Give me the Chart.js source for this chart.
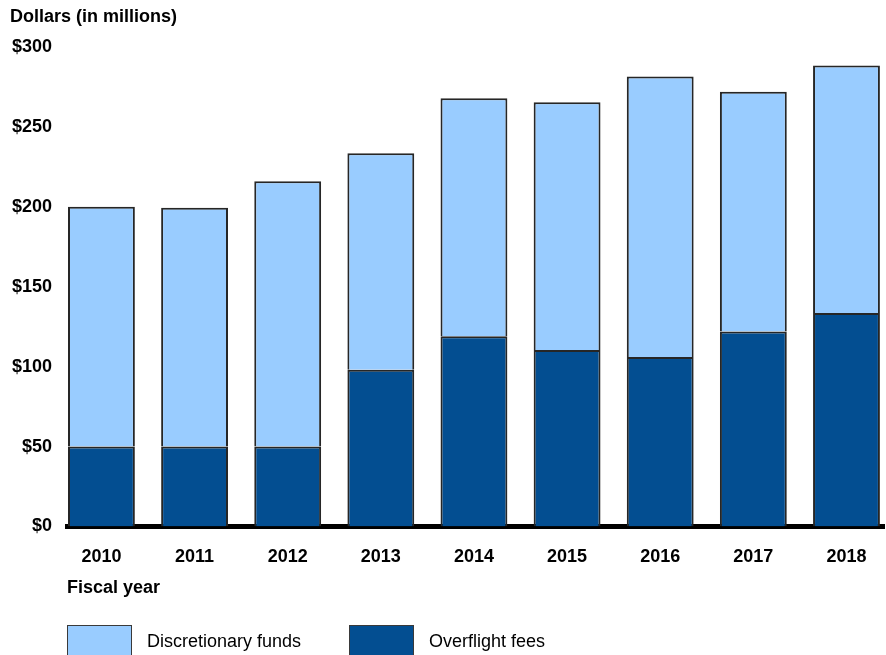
<!DOCTYPE html>
<html>
<head>
<meta charset="utf-8">
<script src="https://cdn.jsdelivr.net/npm/chart.js@4/dist/chart.umd.min.js"></script>
<style>
  html, body { margin: 0; padding: 0; background: #fff; overflow: hidden; }
  #wrap { width: 886px; height: 655px; position: relative; }
</style>
</head>
<body>
<div id="wrap"><canvas id="chart" width="886" height="655"></canvas></div>
<script>
// Fiscal years on the horizontal axis
const fiscalYears = ['2010', '2011', '2012', '2013', '2014', '2015', '2016', '2017', '2018'];
// Funding sources, dollars in millions
const overflightFees = [50, 50, 50, 98, 119, 110.5, 106, 122, 133.5];
const discretionaryFunds = [150, 149.5, 166, 135.5, 149, 155, 175.5, 150, 155];
// Dollar axis ticks
const dollarTicks = [0, 50, 100, 150, 200, 250, 300];

const FONT = "'Liberation Sans', Arial, sans-serif";
const LIGHT = '#99CCFF';
const DARK = '#034E91';
const EDGE = '#262626';

// Legend drawn below the axis title, discretionary funds first
const legendPlugin = {
  id: 'fundLegend',
  afterDraw(chart) {
    const ctx = chart.ctx;
    const items = [
      { ds: chart.data.datasets[1], boxX: 67, textX: 147 },
      { ds: chart.data.datasets[0], boxX: 349, textX: 429 }
    ];
    ctx.save();
    items.forEach(it => {
      ctx.fillStyle = it.ds.backgroundColor;
      ctx.fillRect(it.boxX + 0.5, 625.5, 64, 36);
      ctx.strokeStyle = '#3a3a3a';
      ctx.lineWidth = 1;
      ctx.strokeRect(it.boxX + 0.5, 625.5, 64, 36);
      ctx.fillStyle = '#000';
      ctx.font = '18px ' + FONT;
      ctx.textBaseline = 'middle';
      ctx.textAlign = 'left';
      ctx.fillText(it.ds.label, it.textX, 642);
    });
    ctx.restore();
  }
};

new Chart(document.getElementById('chart'), {
  type: 'bar',
  data: {
    datasets: [
      {
        label: 'Overflight fees',
        data: fiscalYears.map((_, i) => ({ x: i, y: overflightFees[i] })),
        backgroundColor: DARK,
        borderColor: EDGE,
        borderWidth: 2,
        borderSkipped: 'start'
      },
      {
        label: 'Discretionary funds',
        data: fiscalYears.map((_, i) => ({ x: i, y: discretionaryFunds[i] })),
        backgroundColor: LIGHT,
        borderColor: EDGE,
        borderWidth: 2,
        borderSkipped: 'start'
      }
    ]
  },
  options: {
    responsive: false,
    animation: false,
    categoryPercentage: 1,
    barPercentage: 0.718,
    layout: { padding: { left: 10, right: 0, top: 0, bottom: 0 } },
    plugins: {
      legend: { display: false },
      tooltip: { enabled: false },
      title: {
        display: true,
        text: 'Dollars (in millions)',
        align: 'start',
        color: '#000',
        font: { family: FONT, size: 18, weight: 'bold', lineHeight: 1.2 },
        padding: { top: 6.5, bottom: 18.9 }
      }
    },
    scales: {
      x: {
        type: 'linear',
        stacked: true,
        offset: false,
        min: -0.3697,
        max: 8.407,
        z: 1,
        grid: { display: false, drawTicks: false, offset: false },
        border: { display: true, color: '#000', width: 5 },
        afterBuildTicks: axis => { axis.ticks = fiscalYears.map((_, i) => ({ value: i })); },
        afterFit: axis => { axis.height = 128.5; },
        ticks: {
          autoSkip: false,
          maxRotation: 0,
          padding: 19.5,
          color: '#000',
          font: { family: FONT, size: 18, weight: 'bold', lineHeight: 1.2 },
          callback: v => fiscalYears[v] ?? ''
        },
        title: {
          display: true,
          text: 'Fiscal year',
          align: 'start',
          color: '#000',
          font: { family: FONT, size: 18, weight: 'bold', lineHeight: 1.2 },
          padding: { top: 0, bottom: 56 }
        }
      },
      y: {
        stacked: true,
        min: 0,
        max: 300,
        grid: { display: false, drawTicks: false },
        border: { display: false },
        afterBuildTicks: axis => { axis.ticks = dollarTicks.map(v => ({ value: v })); },
        afterFit: axis => { axis.width = 57; },
        ticks: {
          padding: 15,
          color: '#000',
          font: { family: FONT, size: 18, weight: 'bold', lineHeight: 1.2 },
          callback: v => '$' + v
        }
      }
    }
  },
  plugins: [legendPlugin]
});
</script>
</body>
</html>
